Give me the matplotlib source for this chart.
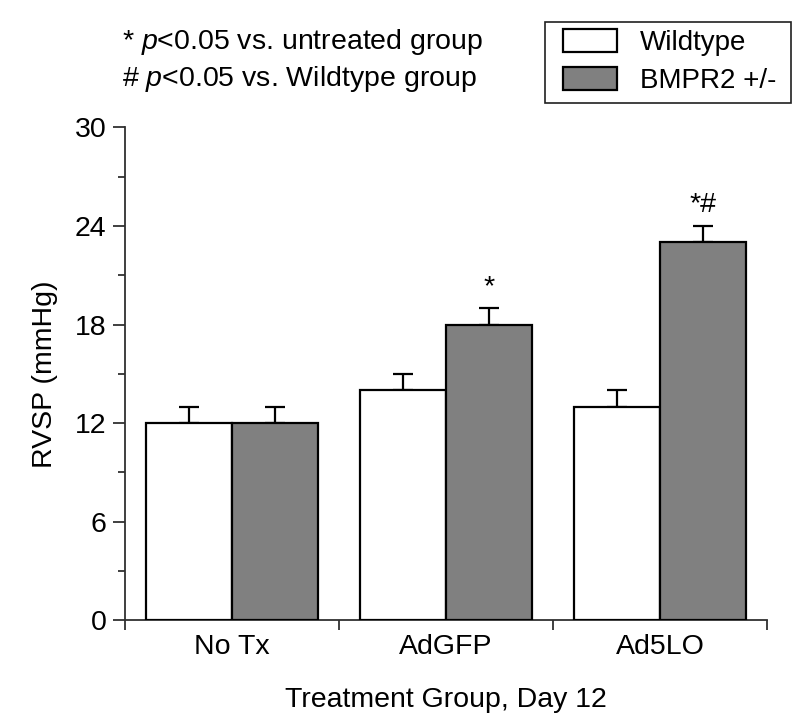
import matplotlib
matplotlib.use("Agg")
import matplotlib.pyplot as plt
import numpy as np
from matplotlib.patches import Patch, Rectangle

plt.rcParams['font.family'] = ['Liberation Sans', 'DejaVu Sans']
plt.rcParams['mathtext.fontset'] = 'custom'
plt.rcParams['mathtext.it'] = 'Liberation Sans:italic'
plt.rcParams['mathtext.rm'] = 'Liberation Sans'

# Data
groups = ['No Tx', 'AdGFP', 'Ad5LO']
wildtype = [12, 14, 13]
wildtype_err = [1, 1, 1]
bmpr2 = [12, 18, 23]
bmpr2_err = [1, 1, 1]
sig_marks = ['', '*', '*#']

WHITE = 'white'
GRAY = '#808080'
AXCOL = '#303030'
FS = 20.5
LEG_FS = 20

fig = plt.figure(figsize=(8, 7.28), dpi=100)
ax = fig.add_axes([0.156, 0.148, 0.803, 0.677])

x = np.arange(len(groups))
w = 0.4
ax.bar(x - w/2, wildtype, w, color=WHITE, edgecolor='black', linewidth=1.6, zorder=3)
ax.bar(x + w/2, bmpr2, w, color=GRAY, edgecolor='black', linewidth=1.6, zorder=3)

# upward-only error bars
ax.errorbar(x - w/2, wildtype, yerr=[np.zeros(3), wildtype_err], fmt='none',
            ecolor='black', elinewidth=1.6, capsize=7.5, capthick=1.6, zorder=2)
ax.errorbar(x + w/2, bmpr2, yerr=[np.zeros(3), bmpr2_err], fmt='none',
            ecolor='black', elinewidth=1.6, capsize=7.5, capthick=1.6, zorder=2)

# significance markers
for xi, v, e, s in zip(x, bmpr2, bmpr2_err, sig_marks):
    if s:
        ax.text(xi + w/2, v + e + 0.5, s, ha='center', va='bottom', fontsize=FS)

ax.set_xlim(-0.5, 2.5)
ax.set_ylim(0, 30)
ax.set_yticks(np.arange(0, 31, 6))
ax.set_yticks(np.arange(0, 31, 3), minor=True)
ax.set_xticks([-0.5, 0.5, 1.5, 2.5])
ax.set_xticklabels([])
ax.set_xticks(x, minor=True)
ax.set_xticklabels(groups, minor=True, fontsize=FS)
ax.tick_params(axis='x', which='minor', length=0, pad=10)
ax.tick_params(axis='x', which='major', direction='out', length=7, width=1.3, color=AXCOL)
ax.tick_params(axis='y', which='major', length=9, width=1.3, color=AXCOL, labelsize=FS, pad=4)
ax.tick_params(axis='y', which='minor', length=5, width=1.3, color=AXCOL)

for side in ['top', 'right']:
    ax.spines[side].set_visible(False)
for side in ['left', 'bottom']:
    ax.spines[side].set_color(AXCOL)
    ax.spines[side].set_linewidth(1.3)

ax.set_ylabel('RVSP (mmHg)', fontsize=FS, labelpad=12)
ax.set_xlabel('Treatment Group, Day 12', fontsize=FS, labelpad=19)

# legend (frame drawn separately so the side padding can be wider)
handles = [Patch(facecolor=WHITE, edgecolor='black', linewidth=1.6, label='Wildtype'),
           Patch(facecolor=GRAY, edgecolor='black', linewidth=1.6, label='BMPR2 +/-')]
leg = fig.legend(handles=handles, loc='upper left', bbox_to_anchor=(563/800, 1 - 29/728),
                 fontsize=LEG_FS, frameon=False, handlelength=1.94,
                 handleheight=0.9, handletextpad=0.83, labelspacing=0.4,
                 borderpad=0, borderaxespad=0)
fig.add_artist(Rectangle((545/800, 1 - 103/728), 246/800, 81/728, transform=fig.transFigure,
                         facecolor='none', edgecolor='#202020', linewidth=1.2))

# note text
fig.text(0.152, 1 - 49/728, r'* $\it{p}$<0.05 vs. untreated group', fontsize=FS, va='baseline')
fig.text(0.152, 1 - 86/728, r'# $\it{p}$<0.05 vs. Wildtype group', fontsize=FS, va='baseline')

fig.savefig('out.png', dpi=100)
